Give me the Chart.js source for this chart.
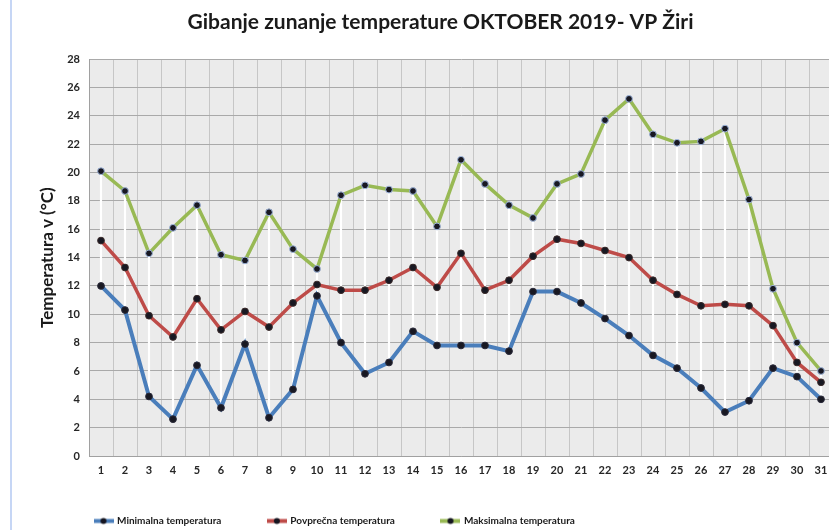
<!DOCTYPE html>
<html><head><meta charset="utf-8">
<script src="https://cdn.jsdelivr.net/npm/chart.js@4.4.1/dist/chart.umd.min.js"></script>
<style>
html,body{margin:0;padding:0;background:#fff;overflow:hidden;width:829px;height:530px;}
#wrap{position:absolute;left:0;top:0;width:845px;height:536px;}
#edge{position:absolute;left:10px;top:0;width:2px;height:530px;background:#c6d6f5;}
</style></head><body>
<div id="wrap"><canvas id="c" width="845" height="536"></canvas></div>
<div id="edge"></div>
<script>
const chartTitle = 'Gibanje zunanje temperature OKTOBER 2019- VP Žiri';
const yAxisTitle = 'Temperatura v (°C)';
const days = ['1','2','3','4','5','6','7','8','9','10','11','12','13','14','15','16','17','18','19','20','21','22','23','24','25','26','27','28','29','30','31'];
const seriesNames = ['Minimalna temperatura', 'Povprečna temperatura', 'Maksimalna temperatura'];
const minTemp = [12.0, 10.3, 4.2, 2.6, 6.4, 3.4, 7.9, 2.7, 4.7, 11.3, 8.0, 5.8, 6.6, 8.8, 7.8, 7.8, 7.8, 7.4, 11.6, 11.6, 10.8, 9.7, 8.5, 7.1, 6.2, 4.8, 3.1, 3.9, 6.2, 5.6, 4.0];
const avgTemp = [15.2, 13.3, 9.9, 8.4, 11.1, 8.9, 10.2, 9.1, 10.8, 12.1, 11.7, 11.7, 12.4, 13.3, 11.9, 14.3, 11.7, 12.4, 14.1, 15.3, 15.0, 14.5, 14.0, 12.4, 11.4, 10.6, 10.7, 10.6, 9.2, 6.6, 5.2];
const maxTemp = [20.1, 18.7, 14.3, 16.1, 17.7, 14.2, 13.8, 17.2, 14.6, 13.2, 18.4, 19.1, 18.8, 18.7, 16.2, 20.9, 19.2, 17.7, 16.8, 19.2, 19.9, 23.7, 25.2, 22.7, 22.1, 22.2, 23.1, 18.1, 11.8, 8.0, 6.0];
const yTicks = {min: 0, max: 28, step: 2};

const colors = ['#4a7ebb', '#be4b48', '#98b954'];
const pointRims = ['#2a2a3a', '#3a2a2a', '#9fb6dc'];
const FONT = 'Lato, "Liberation Sans", Arial, sans-serif';

function makeMarker(color) {
  const c = document.createElement('canvas');
  c.width = 20; c.height = 9;
  const g = c.getContext('2d');
  g.strokeStyle = color; g.lineWidth = 4;
  g.beginPath(); g.moveTo(0, 4.5); g.lineTo(20, 4.5); g.stroke();
  g.fillStyle = '#151520';
  g.beginPath(); g.arc(10, 4.5, 3, 0, Math.PI * 2); g.fill();
  return c;
}
const markers = colors.map(makeMarker);

const plotBg = {
  id: 'plotBg',
  beforeDraw(chart) {
    const {ctx, chartArea: a} = chart;
    ctx.save();
    ctx.fillStyle = '#ebebeb';
    ctx.fillRect(a.left, a.top, a.right - a.left, a.bottom - a.top);
    ctx.restore();
  }
};

function lineDs(i, data, w) {
  return {
    type: 'line', label: seriesNames[i], data,
    borderColor: colors[i], backgroundColor: colors[i],
    borderWidth: w, tension: 0,
    pointRadius: 3.4, pointBackgroundColor: '#181822', pointBorderColor: pointRims[i], pointBorderWidth: 1,
    order: i + 1
  };
}

new Chart(document.getElementById('c'), {
  type: 'line',
  data: {
    labels: days,
    datasets: [
      lineDs(0, minTemp, 4),
      lineDs(1, avgTemp, 3.5),
      lineDs(2, maxTemp, 3.5),
      {
        type: 'bar', label: 'hl', data: minTemp.map((v, i) => [v, maxTemp[i]]),
        backgroundColor: '#ffffff', borderWidth: 0, barThickness: 1.5, order: 10
      }
    ]
  },
  options: {
    responsive: false, animation: false, devicePixelRatio: 1,
    layout: {padding: {left: 48, right: 12, top: 0, bottom: 0}},
    plugins: {
      title: {
        display: true, text: chartTitle, color: '#1a1a1a',
        font: {family: FONT, size: 21, weight: 'bold'},
        padding: {top: 10, bottom: 24}
      },
      legend: {
        position: 'bottom', align: 'start',
        labels: {
          usePointStyle: true, pointStyleWidth: 17, padding: 47,
          color: '#1a1a1a', font: {family: FONT, size: 10, weight: 'bold'},
          generateLabels(chart) {
            const items = Chart.defaults.plugins.legend.labels.generateLabels(chart);
            return items.filter(it => it.datasetIndex < 3).map(it => Object.assign(it, {pointStyle: markers[it.datasetIndex], rotation: 0}));
          }
        }
      },
      tooltip: {enabled: false}
    },
    scales: {
      x: {
        type: 'category', offset: true,
        grid: {offset: true, color: '#c6c6c6', drawTicks: false},
        border: {color: '#a0a0a0'},
        ticks: {mirror: true, padding: -21, color: '#262626', font: {family: FONT, size: 11, weight: 'bold'}, maxRotation: 0, autoSkip: false},
        afterFit(s) { s.height = 13; }
      },
      y: {
        min: yTicks.min, max: yTicks.max,
        ticks: {stepSize: yTicks.step, padding: 9, color: '#262626', font: {family: FONT, size: 11, weight: 'bold'}},
        grid: {color: '#a9a9a9', drawTicks: false},
        border: {color: '#a0a0a0'},
        title: {display: true, text: yAxisTitle, color: '#1a1a1a', font: {family: FONT, size: 17, weight: 'bold'}, padding: {top: -11, bottom: 0}},
        afterFit(s) { s.width = 41; }
      }
    }
  },
  plugins: [plotBg]
});
</script>
</body></html>
